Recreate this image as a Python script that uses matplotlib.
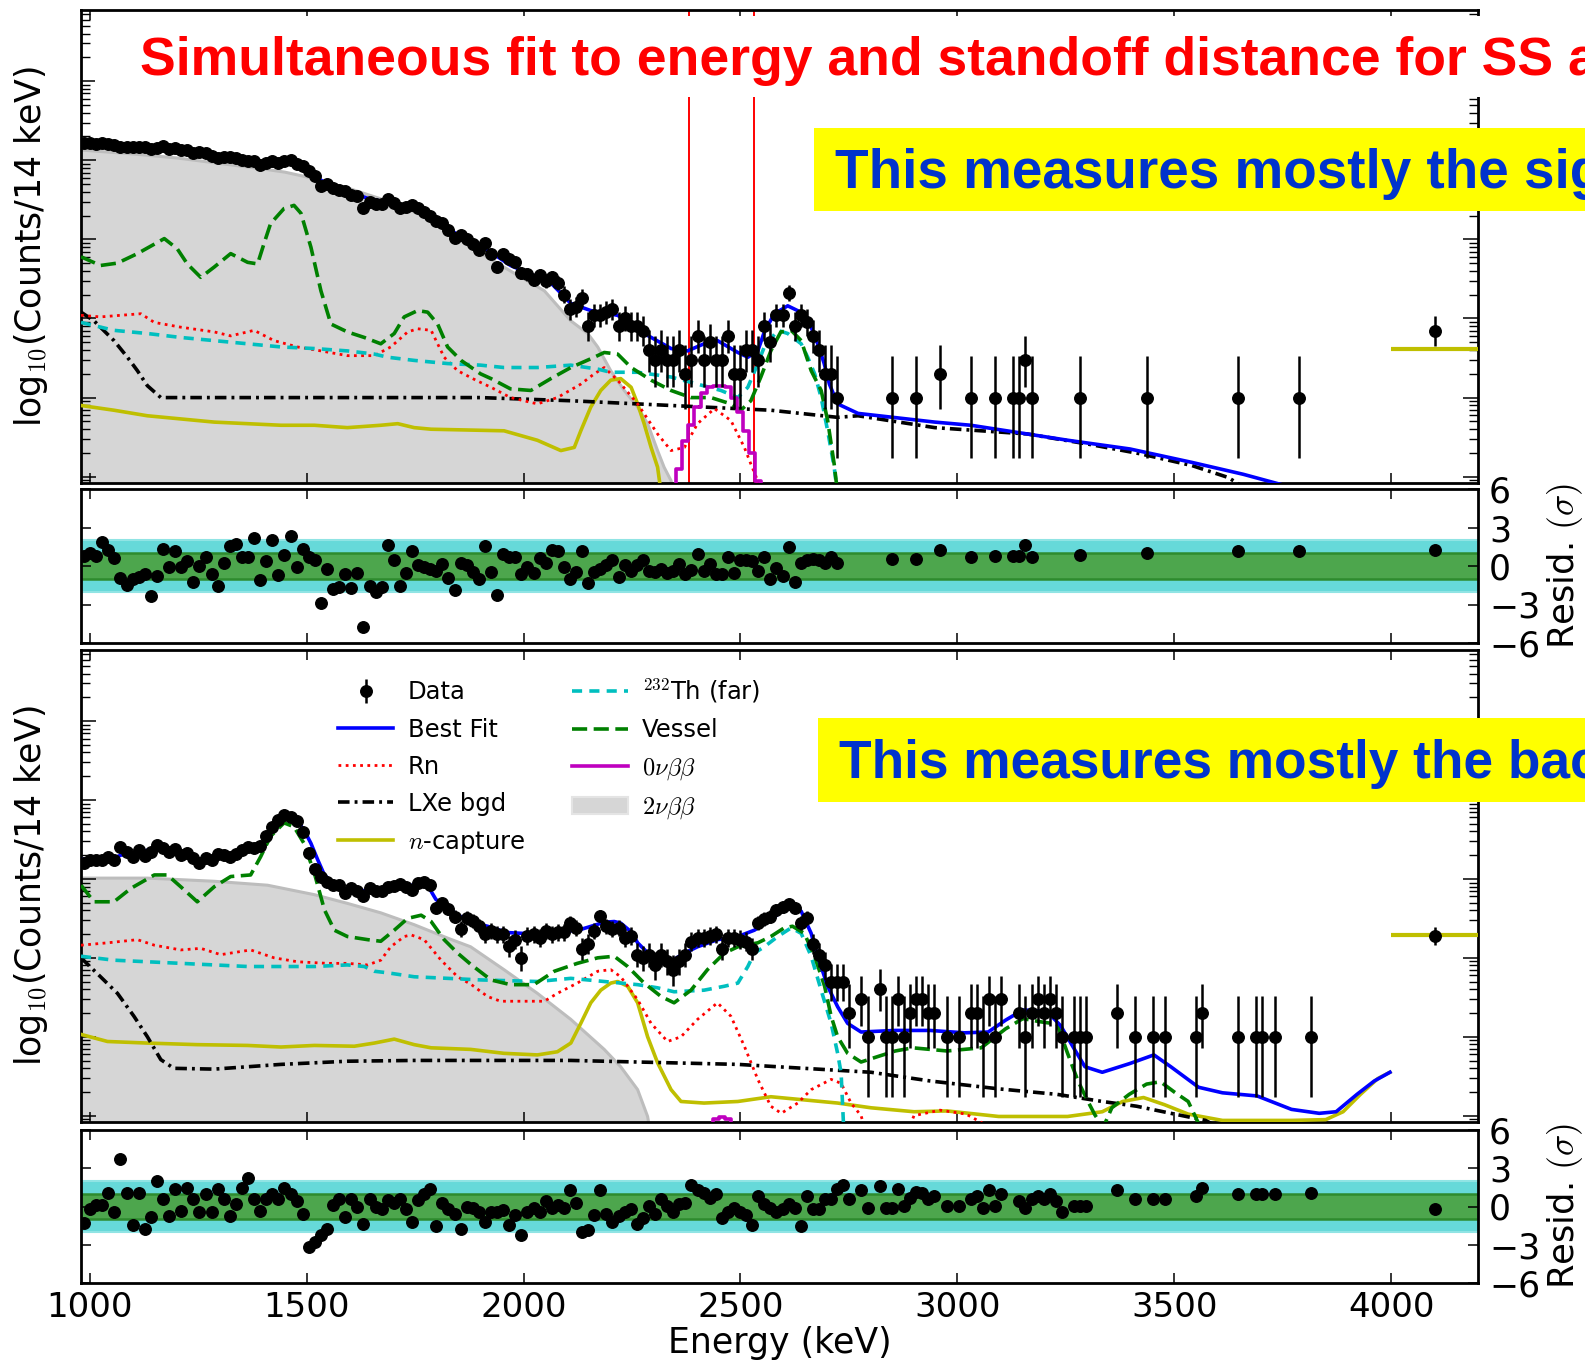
import numpy as np
import matplotlib
matplotlib.use('Agg')
import matplotlib.pyplot as plt
from matplotlib.ticker import NullFormatter, LogLocator, MultipleLocator
from matplotlib.patches import Rectangle, Patch
from matplotlib.lines import Line2D

plt.rcParams['font.family'] = ['DejaVu Sans']
plt.rcParams['mathtext.fontset'] = 'cm'

# 14 keV bins, first bin centred at 987 keV
BIN0, BINW = 987, 14
OVF_E = 4100            # overflow bin (> 4000 keV)

# ---------------- upper panel (signal-like) ----------------
top_counts = [1654, 1645, 1616, 1640, 1599, 1573, 1493, 1456, 1473, 1462,
              1455, 1388, 1432, 1495, 1409, 1422, 1345, 1333, 1244, 1259,
              1227, 1140, 1069, 1103, 1108, 1078, 1010, 976, 989, 869,
              915, 985, 922, 982, 1015, 890, 850, 742, 629, 470,
              495, 440, 422, 414, 364, 352, 251, 296, 280, 280,
              323, 290, 249, 259, 275, 246, 222, 196, 173, 160,
              133, 105, 113, 101, 87, 73, 90, 65, 45, 65,
              57, 52, 38, 36, 31, 35, 30, 33, 28, 20,
              13, 14, 18, 8, 11, 11, 12, 13, 8, 10,
              8, 8, 7, 4, 3, 4, 3, 3, 4, 2,
              3, 6, 3, 5, 3, 3, 6, 2, 2, 4,
              4, 3, 8, 5, 11, 11, 21, 8, 11, 9,
              6, 4, 2, 2, 1]
top_resid = [0.79, 1.05, 0.79, 1.84, 1.26, 0.6, -0.97, -1.5, -1.05, -0.89,
             -0.63, -2.36, -0.79, 1.31, -0.1, 1.13, -0.1, 0.42, -1.23, 0.0,
             0.73, -0.63, -1.57, 0.21, 1.52, 1.73, 0.68, 0.68, 2.18, -1.1,
             0.42, 2.05, -0.71, 0.87, 2.31, -0.05, 1.31, 0.68, 0.47, -2.89,
             -0.26, -1.76, -1.63, -0.63, -1.68, -0.58, -4.78, -1.57, -2.02, -1.63,
             1.65, 0.47, -1.57, -0.58, 1.13, 0.08, -0.1, -0.26, -0.37, 0.16,
             -0.97, -1.89, 0.26, 0.08, -0.45, -1.05, 1.57, -0.45, -2.23, 0.94,
             0.68, 0.68, -0.63, -0.1, -0.58, 0.6, 0.26, 1.26, 1.13, -0.1,
             -1.05, -0.45, 1.13, -1.36, -0.45, -0.26, 0.08, 0.47, -0.89, 0.08,
             -0.37, 0.08, 0.47, -0.39, -0.45, -0.26, -0.58, -0.37, 0.16, -0.63,
             -0.3, 0.92, -0.37, 0.16, -0.63, -0.63, 0.68, -0.58, 0.47, 0.47,
             0.42, -0.39, 0.68, -1.05, -0.18, -0.79, 1.47, -1.23, 0.21, 0.47,
             0.52, 0.47, 0.21, 0.68, 0.21]
top_sparse_E = [2849, 2905, 2961, 3031, 3087, 3129, 3143, 3157, 3171, 3283, 3437, 3647, 3787]
top_sparse_counts = [1, 1, 2, 1, 1, 1, 1, 3, 1, 1, 1, 1, 1]
top_sparse_resid = [0.52, 0.52, 1.26, 0.68, 0.79, 0.79, 0.79, 1.65, 0.68, 0.87, 1.0, 1.13, 1.13]
top_ovf_count, top_ovf_resid, top_ovf_model = 7, 1.21, 0.61

# model components, log10(counts / 14 keV)
top_fit_E = [987, 1056, 1164, 1210, 1287, 1364, 1400, 1435, 1463, 1490, 1520, 1545, 1600, 1640, 1700,
             1750, 1800, 1850, 1900, 1970, 2063, 2109, 2155, 2217, 2278, 2340, 2378, 2416, 2447, 2494,
             2517, 2540, 2555, 2578, 2609, 2639, 2663, 2678, 2693, 2705, 2724, 2771, 2948, 3031, 3161,
             3255, 3398, 3541, 3659, 3760]
top_fit_log = [3.21, 3.19, 3.17, 3.13, 3.06, 2.98, 2.955, 2.975, 2.98, 2.91, 2.79, 2.71, 2.60, 2.52, 2.45,
               2.40, 2.25, 2.05, 1.93, 1.67, 1.45, 1.19, 1.10, 1.04, 0.81, 0.62, 0.59, 0.68, 0.72, 0.57,
               0.51, 0.59, 0.83, 1.06, 1.16, 1.08, 0.89, 0.68, 0.43, 0.17, -0.08, -0.20, -0.31, -0.35, -0.46,
               -0.54, -0.65, -0.82, -0.97, -1.12]
top_2nbb_E = [980, 1100, 1200, 1300, 1400, 1450, 1500, 1600, 1700, 1800, 1878, 1970, 2048, 2109, 2148,
              2171, 2201, 2232, 2263, 2286, 2309, 2324, 2340, 2352]
top_2nbb_log = [3.13, 3.08, 3.03, 2.96, 2.89, 2.85, 2.79, 2.64, 2.46, 2.22, 1.90, 1.60, 1.35, 0.97, 0.81,
                0.64, 0.34, 0.09, -0.12, -0.33, -0.67, -0.88, -1.05, -1.4]
top_vessel_E = [980, 1025, 1064, 1110, 1172, 1202, 1225, 1256, 1287, 1325, 1364, 1387, 1402, 1417, 1448,
                1471, 1487, 1510, 1533, 1556, 1594, 1633, 1671, 1702, 1725, 1756, 1779, 1802, 1825, 1856,
                1901, 1925, 1970, 2017, 2063, 2109, 2163, 2186, 2217, 2248, 2294, 2340, 2386, 2432, 2478,
                2501, 2524, 2547, 2570, 2593, 2617, 2640, 2663, 2686, 2701, 2716, 2728]
top_vessel_log = [1.78, 1.67, 1.70, 1.82, 2.01, 1.88, 1.69, 1.52, 1.65, 1.82, 1.71, 1.69, 1.95, 2.20, 2.39,
                  2.43, 2.33, 1.90, 1.35, 0.93, 0.83, 0.76, 0.68, 0.81, 1.02, 1.10, 1.08, 0.93, 0.64, 0.47,
                  0.30, 0.24, 0.11, 0.09, 0.24, 0.38, 0.51, 0.57, 0.55, 0.38, 0.22, 0.09, 0.00, 0.00, -0.08,
                  -0.16, -0.04, 0.26, 0.59, 0.83, 0.85, 0.72, 0.34, 0.09, -0.29, -0.84, -1.4]
top_th_E = [980, 1056, 1133, 1210, 1287, 1364, 1441, 1518, 1594, 1656, 1687, 1748, 1825, 1901, 1955,
            2032, 2109, 2171, 2201, 2263, 2340, 2401, 2455, 2494, 2517, 2540, 2555, 2586, 2609, 2640,
            2655, 2671, 2686, 2701, 2716, 2728]
top_th_log = [0.95, 0.85, 0.81, 0.76, 0.72, 0.68, 0.64, 0.62, 0.59, 0.55, 0.51, 0.47, 0.43, 0.41, 0.38,
              0.38, 0.41, 0.36, 0.32, 0.32, 0.26, 0.17, 0.09, 0.00, 0.13, 0.43, 0.64, 0.85, 0.81, 0.68,
              0.51, 0.30, 0.00, -0.42, -0.88, -1.4]
top_rn_E = [980, 1025, 1071, 1118, 1149, 1210, 1287, 1325, 1379, 1425, 1479, 1533, 1594, 1656, 1694,
            1733, 1756, 1787, 1817, 1848, 1890, 1925, 1970, 2032, 2078, 2132, 2163, 2186, 2217, 2263,
            2309, 2340, 2371, 2401, 2440, 2478, 2509, 2524, 2536, 2548]
top_rn_log = [1.04, 1.02, 1.04, 1.06, 0.95, 0.89, 0.83, 0.78, 0.85, 0.72, 0.64, 0.59, 0.53, 0.53, 0.64,
              0.83, 0.87, 0.85, 0.51, 0.34, 0.22, 0.13, 0.00, -0.08, 0.00, 0.17, 0.30, 0.38, 0.22, -0.08,
              -0.46, -0.67, -0.63, -0.33, -0.14, -0.29, -0.63, -0.84, -1.00, -1.4]
top_lxe_E = [980, 1010, 1056, 1087, 1110, 1133, 1164, 1500, 1900, 2109, 2340, 2570, 2724, 2771, 2948,
             3161, 3303, 3421, 3541, 3624, 3680]
top_lxe_log = [1.08, 0.97, 0.72, 0.51, 0.34, 0.15, 0.00, 0.00, 0.00, -0.04, -0.10, -0.16, -0.25, -0.23, -0.38,
               -0.46, -0.59, -0.71, -0.86, -1.01, -1.2]
top_ncap_E = [980, 1056, 1133, 1210, 1287, 1364, 1441, 1518, 1594, 1671, 1710, 1748, 1787, 1955, 2032,
              2086, 2117, 2132, 2155, 2178, 2201, 2224, 2248, 2263, 2278, 2294, 2309, 2322]
top_ncap_log = [-0.10, -0.16, -0.23, -0.27, -0.31, -0.33, -0.35, -0.35, -0.38, -0.35, -0.33, -0.38, -0.40, -0.42, -0.54,
                -0.67, -0.63, -0.42, -0.12, 0.09, 0.22, 0.24, 0.13, -0.08, -0.33, -0.63, -0.88, -1.4]
top_0nbb_E = [2345, 2359, 2373, 2387, 2401, 2415, 2429, 2443, 2457, 2471, 2485, 2499, 2513, 2527, 2541, 2555]
top_0nbb_log = [-1.4, -0.9, -0.55, -0.35, -0.12, 0.06, 0.13, 0.15, 0.15, 0.13, 0.00, -0.18, -0.42, -0.70, -1.05, -1.4]
roi_lines = [2381, 2532]

# ---------------- lower panel (background-like) ----------------
bot_counts = [161, 173, 175, 173, 188, 176, 250, 219, 188, 235,
              197, 216, 270, 243, 218, 239, 199, 211, 186, 161,
              182, 172, 205, 203, 190, 207, 235, 252, 243, 264,
              350, 457, 551, 639, 612, 535, 398, 214, 132, 105,
              91, 84, 83, 67, 77, 71, 60, 76, 71, 70,
              79, 81, 85, 79, 72, 90, 92, 84, 43, 49,
              41, 33, 23, 32, 29, 25, 20, 22, 20, 20,
              14, 17, 10, 19, 20, 18, 22, 20, 21, 21,
              28, 24, 13, 15, 22, 34, 25, 23, 24, 18,
              19, 11, 10, 11, 8, 11, 9, 7, 9, 11,
              16, 18, 18, 19, 20, 13, 18, 18, 17, 16,
              13, 28, 31, 33, 40, 44, 48, 43, 28, 32,
              15, 11, 8, 5, 5, 5]
bot_resid = [-1.28, -0.21, 0.10, 0.10, 1.08, -0.41, 3.69, 1.08, -1.44, 1.08,
             -1.79, -0.85, 1.97, 0.56, -0.72, 1.38, -0.33, 1.46, 0.62, -0.41,
             0.95, -0.41, 1.38, 0.56, -0.72, 0.18, 1.46, 2.23, 0.56, -0.33,
             0.62, 0.95, 0.62, 1.46, 0.95, 0.44, -0.59, -3.15, -2.82, -2.26,
             -1.74, 0.10, 0.56, -0.85, 0.56, 0.0, -1.36, 0.56, 0.0, -0.21,
             0.51, 0.31, 0.62, -0.21, -1.18, 0.51, 0.95, 1.38, -1.54, 0.31,
             -0.21, -0.59, -1.74, 0.0, -0.08, -0.46, -1.18, -0.41, -0.46, -0.26,
             -1.49, -0.67, -2.26, -0.41, -0.08, -0.46, 0.44, -0.08, 0.10, -0.15,
             1.33, 0.31, -2.0, -1.87, -0.67, 1.28, -0.59, -1.18, -0.72, -0.46,
             -0.21, -1.36, -0.92, 0.05, -0.59, 0.56, 0.05, -0.46, 0.18, 0.31,
             1.72, 1.33, 1.08, 0.69, 0.95, -0.92, -0.46, -0.08, -0.41, -0.67,
             -1.49, 0.82, 0.18, -0.08, -0.46, -0.21, 0.18, -0.08, -1.54, 0.82,
             -0.21, -0.21, 0.56, 0.56, 1.38, 1.72]
bot_sparse_E = [2751, 2779, 2793, 2821, 2835, 2849, 2863, 2877, 2891, 2905, 2919, 2933, 2947, 2975,
                3003, 3031, 3045, 3059, 3073, 3087, 3101, 3143, 3157, 3171, 3185, 3199, 3213, 3227,
                3241, 3269, 3283, 3297, 3367, 3409, 3451, 3479, 3549, 3563, 3647, 3689, 3703, 3731, 3815]
bot_sparse_counts = [2, 3, 1, 4, 1, 1, 3, 1, 2, 3, 3, 2, 2, 1,
                     1, 2, 2, 1, 3, 1, 3, 2, 1, 2, 3, 2, 3, 2,
                     1, 1, 1, 1, 2, 1, 1, 1, 1, 2, 1, 1, 1, 1, 1]
bot_sparse_resid = [0.62, 1.33, -0.08, 1.59, -0.08, -0.08, 1.38, 0.05, 0.69, 1.13, 1.08, 0.56, 0.82, 0.05,
                    0.05, 0.56, 0.82, -0.08, 1.28, 0.05, 0.95, 0.44, -0.08, 0.56, 0.82, 0.56, 0.95, 0.44,
                    -0.46, 0.05, 0.05, 0.05, 1.33, 0.62, 0.62, 0.62, 0.82, 1.46, 0.95, 0.95, 0.95, 0.95, 1.08]
bot_ovf_count, bot_ovf_resid, bot_ovf_model = 19, -0.21, 1.29

bot_fit_E = [987, 1056, 1071, 1118, 1156, 1202, 1248, 1294, 1340, 1387, 1402, 1417, 1433, 1448, 1464,
             1479, 1494, 1510, 1525, 1541, 1564, 1587, 1633, 1679, 1725, 1764, 1783, 1798, 1817, 1856,
             1894, 1917, 1963, 2032, 2071, 2132, 2186, 2209, 2224, 2248, 2263, 2294, 2332, 2371, 2401,
             2447, 2494, 2532, 2570, 2609, 2640, 2663, 2678, 2701, 2724, 2747, 2778, 2857, 2937, 3016,
             3071, 3111, 3151, 3207, 3238, 3270, 3294, 3334, 3397, 3453, 3492, 3556, 3611, 3691, 3770,
             3834, 3873, 3921, 3961, 3997]
bot_fit_log = [2.25, 2.26, 2.30, 2.35, 2.38, 2.33, 2.22, 2.27, 2.32, 2.38, 2.47, 2.60, 2.71, 2.78, 2.77,
               2.73, 2.62, 2.45, 2.25, 2.05, 1.93, 1.87, 1.85, 1.86, 1.91, 1.93, 1.88, 1.74, 1.66, 1.52,
               1.43, 1.40, 1.32, 1.30, 1.31, 1.36, 1.45, 1.46, 1.44, 1.33, 1.19, 1.02, 0.93, 1.06, 1.14,
               1.23, 1.27, 1.35, 1.48, 1.65, 1.59, 1.31, 1.02, 0.64, 0.38, 0.17, 0.06, 0.08, 0.08, 0.05,
               0.06, 0.21, 0.34, 0.32, 0.14, -0.16, -0.38, -0.45, -0.34, -0.23, -0.38, -0.64, -0.71, -0.75, -0.92,
               -0.97, -0.95, -0.73, -0.56, -0.45]
bot_2nbb_E = [980, 1133, 1287, 1410, 1518, 1594, 1671, 1748, 1825, 1878, 1955, 2032, 2109, 2186, 2224,
              2263, 2286, 2298]
bot_2nbb_log = [2.01, 2.01, 1.97, 1.92, 1.80, 1.69, 1.57, 1.42, 1.25, 1.14, 0.85, 0.55, 0.22, -0.16, -0.38,
                -0.67, -1.01, -1.4]
bot_vessel_E = [980, 1010, 1056, 1095, 1149, 1179, 1210, 1248, 1287, 1325, 1371, 1394, 1417, 1448, 1471,
                1494, 1518, 1541, 1564, 1594, 1641, 1671, 1702, 1733, 1764, 1787, 1817, 1848, 1880, 1925,
                1970, 2024, 2071, 2124, 2171, 2209, 2240, 2278, 2317, 2347, 2386, 2424, 2463, 2494, 2540,
                2570, 2601, 2620, 2647, 2671, 2694, 2709, 2724, 2747, 2778, 2817, 2857, 2897, 2976, 3055,
                3111, 3151, 3191, 3230, 3254, 3278, 3301, 3317, 3336, 3356, 3396, 3436, 3468, 3500, 3532,
                3556, 3566]
bot_vessel_log = [1.92, 1.71, 1.71, 1.88, 2.05, 2.05, 1.90, 1.71, 1.90, 2.03, 2.05, 2.28, 2.54, 2.71, 2.66,
                  2.45, 2.07, 1.61, 1.35, 1.27, 1.23, 1.21, 1.35, 1.50, 1.54, 1.46, 1.23, 1.06, 0.91, 0.72,
                  0.66, 0.66, 0.83, 0.93, 1.00, 1.02, 0.89, 0.68, 0.51, 0.43, 0.59, 0.85, 1.06, 1.14, 1.19,
                  1.27, 1.38, 1.40, 1.31, 1.02, 0.64, 0.26, 0.00, -0.21, -0.32, -0.25, -0.18, -0.14, -0.18, -0.14,
                  0.10, 0.23, 0.19, 0.16, -0.21, -0.56, -0.82, -0.99, -1.15, -0.90, -0.73, -0.60, -0.57, -0.70, -0.82,
                  -1.1, -1.4]
bot_th_E = [980, 1056, 1133, 1210, 1287, 1364, 1518, 1594, 1633, 1656, 1687, 1748, 1825, 1901, 2032,
            2109, 2186, 2263, 2309, 2347, 2416, 2463, 2494, 2517, 2532, 2555, 2586, 2617, 2640, 2663,
            2686, 2709, 2724, 2732, 2740]
bot_th_log = [1.02, 0.97, 0.95, 0.93, 0.91, 0.89, 0.89, 0.91, 0.89, 0.83, 0.81, 0.76, 0.74, 0.72, 0.70,
              0.74, 0.70, 0.66, 0.62, 0.57, 0.59, 0.64, 0.68, 0.89, 1.06, 1.14, 1.27, 1.38, 1.31, 1.02,
              0.59, 0.17, -0.21, -0.46, -1.4]
bot_rn_E = [980, 1041, 1110, 1149, 1210, 1256, 1302, 1371, 1425, 1479, 1548, 1594, 1641, 1671, 1694,
            1725, 1741, 1771, 1810, 1848, 1880, 1917, 1947, 2048, 2078, 2124, 2171, 2201, 2224, 2263,
            2294, 2332, 2363, 2401, 2447, 2478, 2509, 2540, 2570, 2594, 2632, 2663, 2709, 2732, 2755,
            2778, 2800, 2870, 2900, 2960, 3020, 3060, 3080]
bot_rn_log = [1.16, 1.19, 1.23, 1.16, 1.10, 1.12, 1.04, 1.10, 1.00, 0.95, 0.93, 0.93, 0.91, 0.97, 1.14,
              1.27, 1.29, 1.23, 0.97, 0.76, 0.66, 0.51, 0.45, 0.45, 0.55, 0.68, 0.83, 0.85, 0.76, 0.47,
              0.17, -0.06, 0.00, 0.22, 0.43, 0.26, -0.12, -0.54, -0.88, -0.97, -0.84, -0.67, -0.54, -0.59, -0.84,
              -1.0, -1.4, -1.4, -1.0, -0.93, -0.98, -1.1, -1.4]
bot_lxe_E = [980, 1025, 1064, 1102, 1133, 1164, 1194, 1287, 1364, 1441, 1518, 1594, 1748, 2109, 2340,
             2494, 2647, 2801, 2937, 3095, 3230, 3334, 3413, 3492, 3572, 3620]
bot_lxe_log = [1.00, 0.76, 0.55, 0.26, 0.00, -0.29, -0.40, -0.41, -0.38, -0.35, -0.33, -0.31, -0.30, -0.30, -0.33,
               -0.35, -0.40, -0.45, -0.56, -0.66, -0.73, -0.82, -0.88, -0.97, -1.06, -1.2]
bot_ncap_E = [980, 1041, 1133, 1248, 1364, 1441, 1518, 1610, 1656, 1702, 1748, 1787, 1878, 1955, 2032,
              2078, 2109, 2132, 2155, 2178, 2201, 2217, 2240, 2263, 2286, 2309, 2340, 2363, 2416, 2494,
              2570, 2647, 2724, 2801, 2900, 2976, 3095, 3254, 3334, 3381, 3429, 3477, 3532, 3611, 3770,
              3849, 3889, 3929, 3969, 3997]
bot_ncap_log = [0.03, -0.06, -0.08, -0.10, -0.11, -0.13, -0.11, -0.12, -0.08, -0.03, -0.10, -0.14, -0.16, -0.21, -0.23,
                -0.19, -0.08, 0.17, 0.43, 0.59, 0.68, 0.70, 0.64, 0.43, 0.00, -0.33, -0.67, -0.82, -0.84, -0.82,
                -0.76, -0.80, -0.84, -0.90, -0.95, -0.94, -1.01, -1.01, -0.95, -0.82, -0.77, -0.86, -0.98, -1.06, -1.06,
                -1.05, -0.95, -0.73, -0.53, -0.45]
bot_0nbb_E = [2415, 2429, 2443, 2457, 2471, 2485, 2499]
bot_0nbb_log = [-1.4, -1.12, -1.04, -1.02, -1.04, -1.12, -1.4]

# ---------------------------------------------------------------
W, H = 1585, 1364
fig = plt.figure(figsize=(W / 100, H / 100), dpi=100)


def fig_rect(x0, y0, x1, y1):
    """pixel box (from top-left) -> figure fraction [l, b, w, h]"""
    return [x0 / W, 1 - y1 / H, (x1 - x0) / W, (y1 - y0) / H]


ax1 = fig.add_axes(fig_rect(81, 10, 1478, 483))
ax2 = fig.add_axes(fig_rect(81, 489, 1478, 643))
ax3 = fig.add_axes(fig_rect(81, 650, 1478, 1122))
ax4 = fig.add_axes(fig_rect(81, 1130, 1478, 1283))

XLIM = (980, 4200)
YLIM = (10 ** -1.08, 10 ** 4.9)
GRAY, GRAY_EDGE = '#d6d6d6', '#bdbdbd'
OLIVE = '#bfbf00'
LABEL_FS = 25

styles = {
    'fit':    dict(color='b', lw=2.6, ls='-'),
    'rn':     dict(color='r', lw=2.0, ls=(0, (1, 1.6))),
    'lxe':    dict(color='k', lw=2.6, ls=(0, (3.2, 1.4, 0.8, 1.4))),
    'ncap':   dict(color=OLIVE, lw=2.6, ls='-'),
    'th':     dict(color='c', lw=2.6, ls=(0, (2.8, 2.0))),
    'vessel': dict(color='g', lw=2.6, ls=(0, (4.2, 1.8))),
    '0nbb':   dict(color='m', lw=2.6, ls='-', drawstyle='steps-mid'),
}


def gehrels(n):
    n = np.asarray(n, float)
    up = n + np.sqrt(n + 0.75) + 1.0
    lo = n * (1 - 1 / (9 * n) - 1 / (3 * np.sqrt(n))) ** 3
    return np.vstack([n - lo, up - n])


def style_main(ax):
    ax.set_xlim(*XLIM)
    ax.set_yscale('log')
    ax.set_ylim(*YLIM)
    ax.yaxis.set_major_locator(LogLocator(base=10, numticks=20))
    ax.yaxis.set_minor_locator(LogLocator(base=10, subs=np.arange(2, 10), numticks=20))
    ax.yaxis.set_major_formatter(NullFormatter())
    ax.yaxis.set_minor_formatter(NullFormatter())
    ax.xaxis.set_major_locator(MultipleLocator(500))
    ax.tick_params(which='both', direction='in', left=True, right=True, top=True, bottom=True,
                   labelbottom=False)
    ax.tick_params(axis='y', which='major', length=11, width=1.1)
    ax.tick_params(axis='y', which='minor', length=6.5, width=1.0)
    ax.tick_params(axis='x', length=7, width=1.1)
    for s in ax.spines.values():
        s.set_linewidth(2.0)
    ax.set_ylabel(r'log$_{10}$(Counts/14 keV)', fontsize=LABEL_FS, labelpad=19)


def draw_main(ax, counts, sparse_E, sparse_counts, ovf_count, ovf_model, comps):
    E = BIN0 + BINW * np.arange(len(counts))
    E = np.concatenate([E, sparse_E])
    n = np.concatenate([counts, sparse_counts]).astype(float)
    keep = n > 0
    E, n = E[keep], n[keep]

    cE, cL = comps['2nbb']
    ax.fill_between(cE, 10 ** np.array(cL), 1e-3, color=GRAY, lw=0, zorder=1)
    ax.plot(cE, 10 ** np.array(cL), color=GRAY_EDGE, lw=2.2, zorder=1.5)
    for key in ['ncap', 'lxe', 'rn', 'th', 'vessel', '0nbb', 'fit']:
        cE, cL = comps[key]
        ax.plot(cE, 10 ** np.array(cL), zorder=3, **styles[key])
    ax.hlines(10 ** ovf_model, 4000, XLIM[1], color=OLIVE, lw=3, zorder=3)

    h = ax.errorbar(E, n, yerr=gehrels(n), fmt='o', color='k', ms=8.3, elinewidth=1.8,
                    capsize=0, zorder=10)
    ax.errorbar([OVF_E], [ovf_count], yerr=gehrels([ovf_count]), fmt='o', color='k', ms=8.3,
                elinewidth=1.8, capsize=0, zorder=10)
    style_main(ax)
    return h


def draw_resid(ax, resid, sparse_E, sparse_resid, ovf_resid):
    E = BIN0 + BINW * np.arange(len(resid))
    E = np.concatenate([E, sparse_E, [OVF_E]])
    r = np.concatenate([resid, sparse_resid, [ovf_resid]])
    ax.fill_between(XLIM, -2, 2, color='#66d9d9', lw=0, zorder=1)
    ax.axhline(2, color='#90e4e4', lw=1.5, zorder=1.2)
    ax.axhline(-2, color='#90e4e4', lw=1.5, zorder=1.2)
    ax.fill_between(XLIM, -1, 1, color='#4da64d', lw=0, zorder=1.5)
    ax.axhline(1, color='#2e8b2e', lw=1.8, zorder=1.6)
    ax.axhline(-1, color='#2e8b2e', lw=1.8, zorder=1.6)
    ax.plot(E, r, 'o', color='k', ms=8.3, zorder=10)
    ax.set_xlim(*XLIM)
    ax.set_ylim(-6, 6)
    ax.set_yticks([-6, -3, 0, 3, 6])
    ax.xaxis.set_major_locator(MultipleLocator(500))
    ax.tick_params(which='both', direction='in', left=True, right=True, top=True, bottom=True,
                   labelleft=False, labelright=True, labelbottom=False, labelsize=LABEL_FS, length=7,
                   width=1.1)
    ax.tick_params(axis='y', pad=8)
    for s in ax.spines.values():
        s.set_linewidth(2.0)
    ax.yaxis.set_label_position('right')
    ax.set_ylabel(r'Resid. $(\sigma)$', fontsize=LABEL_FS + 0.5, labelpad=3)


top_comps = {'fit': (top_fit_E, top_fit_log), '2nbb': (top_2nbb_E, top_2nbb_log),
             'vessel': (top_vessel_E, top_vessel_log), 'th': (top_th_E, top_th_log),
             'rn': (top_rn_E, top_rn_log), 'lxe': (top_lxe_E, top_lxe_log),
             'ncap': (top_ncap_E, top_ncap_log), '0nbb': (top_0nbb_E, top_0nbb_log)}
bot_comps = {'fit': (bot_fit_E, bot_fit_log), '2nbb': (bot_2nbb_E, bot_2nbb_log),
             'vessel': (bot_vessel_E, bot_vessel_log), 'th': (bot_th_E, bot_th_log),
             'rn': (bot_rn_E, bot_rn_log), 'lxe': (bot_lxe_E, bot_lxe_log),
             'ncap': (bot_ncap_E, bot_ncap_log), '0nbb': (bot_0nbb_E, bot_0nbb_log)}

draw_main(ax1, top_counts, top_sparse_E, top_sparse_counts, top_ovf_count, top_ovf_model, top_comps)
for e in roi_lines:
    ax1.axvline(e, color='red', lw=1.4, zorder=2.5)
data_h = draw_main(ax3, bot_counts, bot_sparse_E, bot_sparse_counts, bot_ovf_count, bot_ovf_model, bot_comps)

draw_resid(ax2, top_resid, top_sparse_E, top_sparse_resid, top_ovf_resid)
draw_resid(ax4, bot_resid, bot_sparse_E, bot_sparse_resid, bot_ovf_resid)
ax4.tick_params(axis='x', labelbottom=True, labelsize=LABEL_FS - 0.5, pad=6)
ax4.set_xlabel('Energy (keV)', fontsize=LABEL_FS, labelpad=1)

# legend in the lower spectrum
handles = [data_h,
           Line2D([], [], **styles['fit']),
           Line2D([], [], **styles['rn']),
           Line2D([], [], **styles['lxe']),
           Line2D([], [], **styles['ncap']),
           Line2D([], [], **styles['th']),
           Line2D([], [], **styles['vessel']),
           Line2D([], [], color='m', lw=2.6),
           Patch(facecolor=GRAY, edgecolor='#e4e4e4', lw=1.5)]
labels = ['Data', 'Best Fit', 'Rn', 'LXe bgd', r'$n$-capture',
          r'$^{232}$Th (far)', 'Vessel', r'$0\nu\beta\beta$', r'$2\nu\beta\beta$']
ax3.legend(handles, labels, ncol=2, loc='upper left', bbox_to_anchor=(0.168, 0.99),
           frameon=False, fontsize=17.5, handlelength=2.3, handletextpad=0.6,
           columnspacing=1.9, labelspacing=0.54)

# slide overlays: white title strip, title, yellow call-outs
fig.add_artist(Rectangle((95 / W, 1 - 97 / H), 1.0, 81 / H, transform=fig.transFigure,
                         facecolor='white', edgecolor='none', zorder=5))
fig.text(140 / W, 1 - 75 / H, 'Simultaneous fit to energy and standoff distance for SS and MS',
         color='#ff0000', fontsize=38.5, fontweight='bold', family=['Liberation Sans', 'DejaVu Sans'],
         ha='left', va='baseline', zorder=6)
for x0, y0, y1, base, size, txt in [(814, 128, 211, 188, 39.5, 'This measures mostly the signal'),
                                    (818, 718, 802, 778, 38.3, 'This measures mostly the background')]:
    fig.add_artist(Rectangle((x0 / W, 1 - y1 / H), 1.0, (y1 - y0) / H, transform=fig.transFigure,
                             facecolor='#ffff00', edgecolor='none', zorder=5))
    fig.text((x0 + 21) / W, 1 - base / H, txt, color='#0033cc', fontsize=size, fontweight='bold',
             family=['Liberation Sans', 'DejaVu Sans'], ha='left', va='baseline', zorder=6)

fig.savefig('out.png', dpi=100)
